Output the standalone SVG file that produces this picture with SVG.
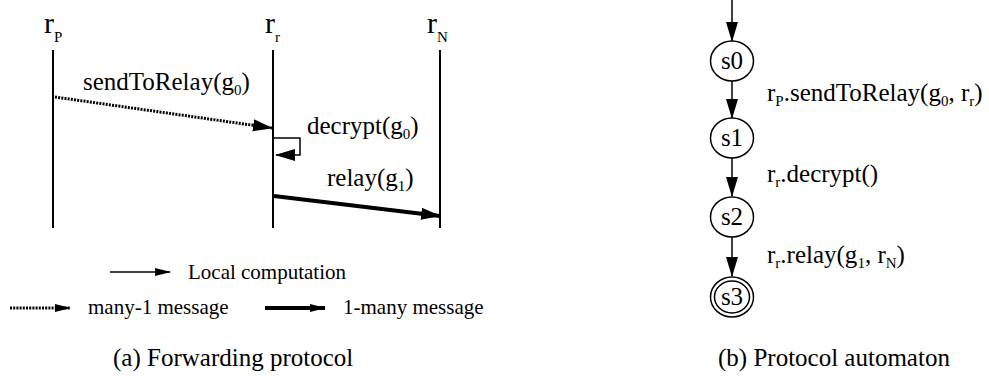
<svg xmlns="http://www.w3.org/2000/svg" width="989" height="376" viewBox="0 0 989 376" font-family="'Liberation Serif', 'Times New Roman', serif">
<style>
text{font-family:'Liberation Serif','Times New Roman',serif;fill:#000}
.lbl{font-size:25px}
.cap{font-size:25px}
.big{font-size:30px}
.leg{font-size:21px}
.sub{font-size:15px}
.life{stroke:#000;stroke-width:2;fill:none}
.thin{stroke:#000;stroke-width:1.5;fill:none}
.dot{stroke:#000;stroke-width:3;stroke-dasharray:2 1.2;fill:none}
.thick{stroke:#000;stroke-width:4;fill:none}
.st{fill:#fff;stroke:#000;stroke-width:1.5}
</style>
<defs>
<marker id="ah" markerUnits="userSpaceOnUse" markerWidth="20" markerHeight="14" refX="19" refY="7" orient="auto" viewBox="0 0 20 14"><path d="M0,1 L20,7 L0,13 z" fill="#000"/></marker>
<marker id="ahs" markerUnits="userSpaceOnUse" markerWidth="16" markerHeight="10" refX="15" refY="5" orient="auto" viewBox="0 0 16 10"><path d="M0,1 L16,5 L0,9 z" fill="#000"/></marker>
</defs>

<g id="lifeline-rP">
<line class="life" x1="53" y1="50" x2="53" y2="228"/>
<text class="big" x="44" y="33">r<tspan class="sub" dy="9">P</tspan></text>
</g>
<g id="lifeline-rr">
<line class="life" x1="273" y1="50" x2="273" y2="228"/>
<text class="big" x="265" y="33">r<tspan class="sub" dy="9">r</tspan></text>
</g>
<g id="lifeline-rN">
<line class="life" x1="440" y1="50" x2="440" y2="228"/>
<text class="big" x="427" y="33">r<tspan class="sub" dy="9">N</tspan></text>
</g>

<g id="messages">
<line class="dot" x1="55" y1="97" x2="272" y2="128" marker-end="url(#ah)"/>
<text class="lbl" x="83" y="90">sendToRelay(g<tspan class="sub" dy="5">0</tspan><tspan dy="-5">)</tspan></text>
<path class="thin" d="M274,138 H300 V155 H276" marker-end="url(#ah)"/>
<text class="lbl" x="307" y="134">decrypt(g<tspan class="sub" dy="5">0</tspan><tspan dy="-5">)</tspan></text>
<line class="thick" x1="274" y1="196" x2="440" y2="216" marker-end="url(#ah)"/>
<text class="lbl" x="327" y="186">relay(g<tspan class="sub" dy="5">1</tspan><tspan dy="-5">)</tspan></text>
</g>

<g id="legend">
<line class="thin" x1="110" y1="272" x2="170" y2="272" marker-end="url(#ahs)"/>
<text class="leg" x="188" y="279">Local computation</text>
<line class="dot" x1="10" y1="308" x2="70" y2="308" marker-end="url(#ahs)"/>
<text class="leg" x="88" y="314">many-1 message</text>
<line class="thick" x1="265" y1="308" x2="325" y2="308" marker-end="url(#ahs)"/>
<text class="leg" x="343" y="314">1-many message</text>
</g>

<g id="connectors">
<line class="thin" x1="732" y1="0" x2="732" y2="41" marker-end="url(#ah)"/>
<line class="thin" x1="732" y1="81" x2="732" y2="118" marker-end="url(#ah)"/>
<line class="thin" x1="732" y1="158" x2="732" y2="196" marker-end="url(#ah)"/>
<line class="thin" x1="732" y1="237" x2="732" y2="276" marker-end="url(#ah)"/>
</g>
<g id="s0"><ellipse class="st" cx="732" cy="61" rx="21.5" ry="20"/><text class="lbl" x="732" y="69" text-anchor="middle">s0</text></g>
<g id="s1"><ellipse class="st" cx="732" cy="138" rx="21.5" ry="20"/><text class="lbl" x="732" y="146" text-anchor="middle">s1</text></g>
<g id="s2"><ellipse class="st" cx="732" cy="217" rx="21.5" ry="20"/><text class="lbl" x="732" y="225" text-anchor="middle">s2</text></g>
<g id="s3"><ellipse class="st" cx="732" cy="297" rx="21.5" ry="20"/><ellipse class="st" cx="732" cy="297" rx="17.5" ry="16"/><text class="lbl" x="732" y="305" text-anchor="middle">s3</text></g>

<g id="transition-labels">
<text class="lbl" x="767" y="101">r<tspan class="sub" dy="5">P</tspan><tspan dy="-5">.sendToRelay(g</tspan><tspan class="sub" dy="5">0</tspan><tspan dy="-5">, r</tspan><tspan class="sub" dy="5">r</tspan><tspan dy="-5">)</tspan></text>
<text class="lbl" x="767" y="182">r<tspan class="sub" dy="5">r</tspan><tspan dy="-5">.decrypt()</tspan></text>
<text class="lbl" x="767" y="263">r<tspan class="sub" dy="5">r</tspan><tspan dy="-5">.relay(g</tspan><tspan class="sub" dy="5">1</tspan><tspan dy="-5">, r</tspan><tspan class="sub" dy="5">N</tspan><tspan dy="-5">)</tspan></text>
</g>

<g id="captions">
<text class="cap" x="113" y="366">(a) Forwarding protocol</text>
<text class="cap" x="718" y="366">(b) Protocol automaton</text>
</g>
</svg>
